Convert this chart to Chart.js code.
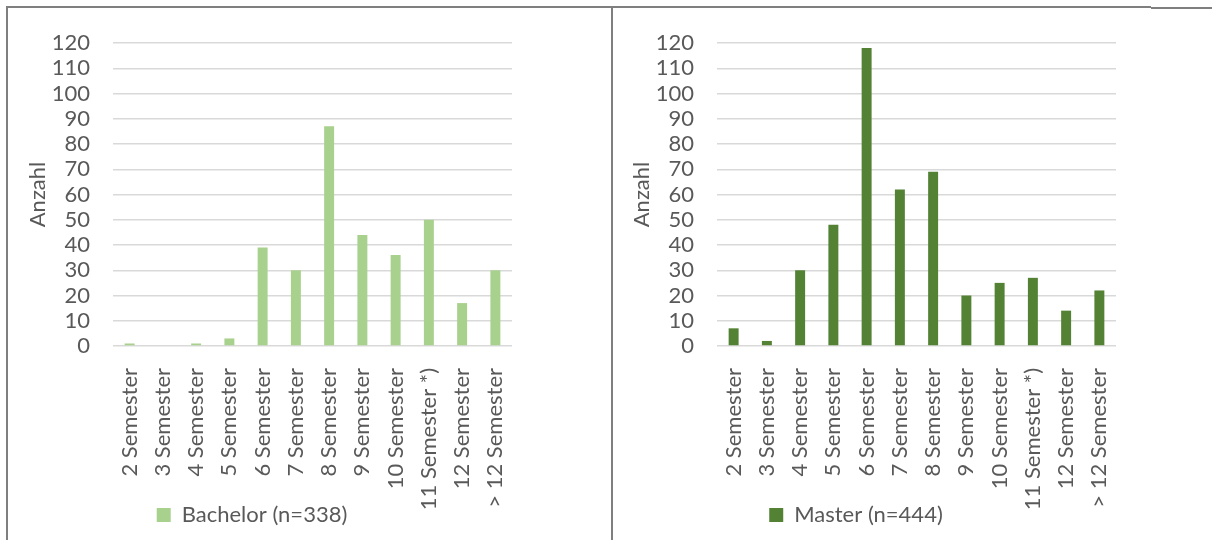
<!DOCTYPE html>
<html lang="de">
<head>
<meta charset="utf-8">
<title>Studiendauer Bachelor / Master</title>
<script src="https://cdn.jsdelivr.net/npm/chart.js@4.4.1/dist/chart.umd.min.js"></script>
<style>
  html, body { margin: 0; padding: 0; background: #ffffff; }
  body { width: 1212px; height: 540px; position: relative; overflow: hidden; }
  .panel { position: absolute; top: 0; width: 600px; height: 540px; }
  .rule { position: absolute; background: #7f7f7f; }
</style>
</head>
<body>
<div class="panel" style="left:-8px"><canvas id="bachelorChart" width="600" height="540"></canvas></div>
<div class="panel" style="left:596px"><canvas id="masterChart" width="600" height="540"></canvas></div>

<!-- table cell borders around the two charts -->
<div class="rule" style="left:6px; top:6px; width:1145px; height:2px;"></div>
<div class="rule" style="left:1151px; top:7px; width:61px; height:2px;"></div>
<div class="rule" style="left:6px; top:6px; width:2px; height:534px;"></div>
<div class="rule" style="left:611px; top:7px; width:2px; height:533px;"></div>

<script>
// Categories: number of semesters until graduation
const semesterLabels = [
  '2 Semester', '3 Semester', '4 Semester', '5 Semester', '6 Semester',
  '7 Semester', '8 Semester', '9 Semester', '10 Semester', '11 Semester *)',
  '12 Semester', '> 12 Semester'
];

// Counts per category
const bachelorCounts = [1, 0, 1, 3, 39, 30, 87, 44, 36, 50, 17, 30];
const masterCounts   = [7, 2, 30, 48, 118, 62, 69, 20, 25, 27, 14, 22];

// Series names shown in the legends
const bachelorName = 'Bachelor (n=338)';
const masterName   = 'Master (n=444)';

// Value axis
const axisTitle = 'Anzahl';
const yMin = 0, yMax = 120, yStep = 10;

const textColor = '#595959';
const gridColor = '#d9d9d9';
const fontFamily = 'Lato, "Open Sans", sans-serif';
const fontSize = 22;

// Let the long rotated category labels run down next to the legend
// instead of being clipped at the bottom of the category axis box.
const unclipCategoryLabels = {
  id: 'unclipCategoryLabels',
  afterLayout(chart) {
    chart.scales.x.bottom = chart.height;
  }
};

function makeChart(canvasId, name, values, color) {
  return new Chart(document.getElementById(canvasId), {
    type: 'bar',
    data: {
      labels: semesterLabels,
      datasets: [{
        label: name,
        data: values,
        backgroundColor: color,
        borderWidth: 0,
        categoryPercentage: 1.0,
        barPercentage: 0.3
      }]
    },
    plugins: [unclipCategoryLabels],
    options: {
      responsive: false,
      animation: false,
      devicePixelRatio: 1,
      layout: { padding: { left: 0, right: 80, top: 43, bottom: 4 } },
      plugins: {
        tooltip: { enabled: false },
        legend: {
          position: 'bottom',
          align: 'center',
          labels: {
            color: textColor,
            font: { family: fontFamily, size: fontSize },
            boxWidth: 14,
            boxHeight: 14,
            padding: 0
          }
        }
      },
      scales: {
        x: {
          grid: { display: false },
          border: { display: false },
          ticks: {
            color: textColor,
            font: { family: fontFamily, size: fontSize },
            minRotation: 90,
            maxRotation: 90,
            autoSkip: false,
            padding: 14
          },
          afterFit: (scale) => { scale.height = 158; }
        },
        y: {
          min: yMin,
          max: yMax,
          grid: { color: gridColor, lineWidth: 1.5, drawTicks: false },
          border: { display: false },
          ticks: {
            stepSize: yStep,
            autoSkip: false,
            color: textColor,
            font: { family: fontFamily, size: fontSize },
            padding: 23
          },
          title: {
            display: true,
            text: axisTitle,
            color: textColor,
            font: { family: fontFamily, size: fontSize },
            padding: { top: 33, bottom: 0 }
          },
          afterFit: (scale) => { scale.width = 121; }
        }
      }
    }
  });
}

makeChart('bachelorChart', bachelorName, bachelorCounts, '#a9d18e');
makeChart('masterChart', masterName, masterCounts, '#548235');
</script>
</body>
</html>
